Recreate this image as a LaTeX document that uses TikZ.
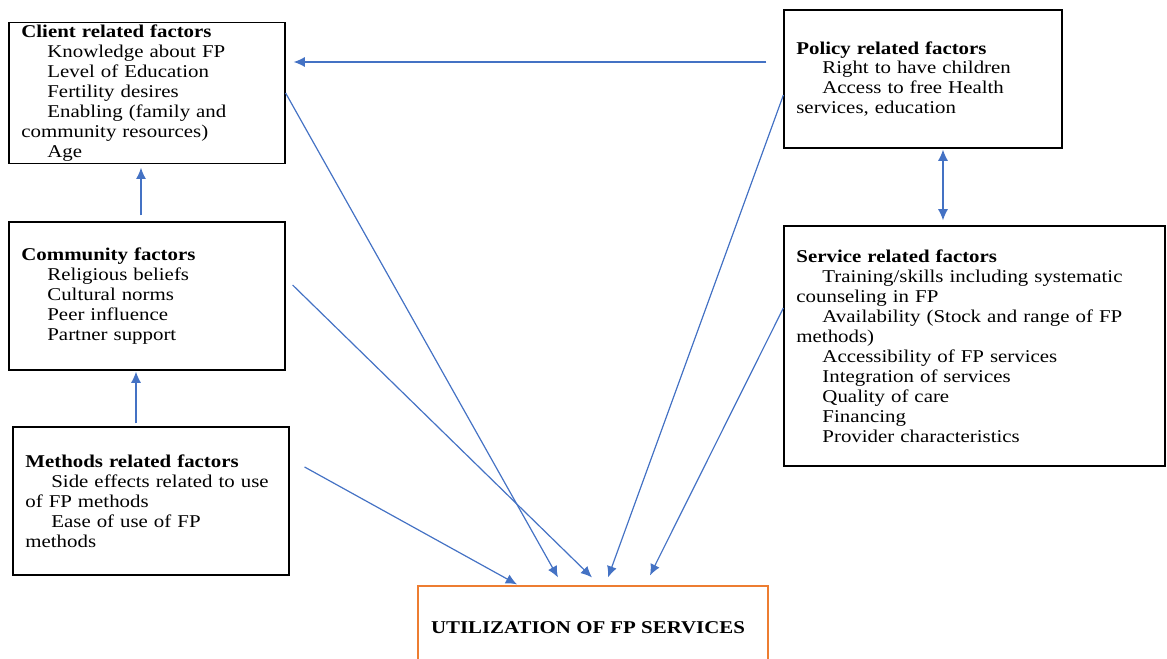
\documentclass[tikz,border=0pt]{standalone}
\usepackage{fontspec}
\setmainfont{Liberation Serif}[FakeStretch=1.16]
\usepackage{xcolor}
\usetikzlibrary{arrows.meta, calc, positioning}
\tikzset{> = { Latex[length = 2.8mm, width = 2.5mm] }}
\definecolor{flowblue}{HTML}{4472C4}
\definecolor{utilorange}{HTML}{ED7D31}
\newcommand{\itemgap}{\hspace*{0.65cm}}
\tikzset{
	factor/.style = {draw, line width = 0.8pt, align = left, inner xsep = 0.31cm, inner ysep = 0.05cm,
		font = \fontsize{12.8}{14.2}\selectfont},
	flow/.style = {draw = flowblue, line width = 0.85pt}
}

\begin{document}
\begin{tikzpicture}[x = 0.025cm, y = -0.025cm]
		\useasboundingbox (0, 0) rectangle (1167, 659);

		\node [factor, minimum width = 6.9cm, minimum height = 3.45cm, text width = 6.28cm] (client) at (147, 93)
			{\textbf{Client related factors}\\ \itemgap Knowledge about FP\\ \itemgap Level of Education\\
			 \itemgap Fertility desires\\ \itemgap Enabling (family and\\ community resources)\\ \itemgap Age};
		\node [factor, minimum width = 6.95cm, minimum height = 3.45cm, text width = 6.33cm] (policy) at (923, 79)
			{\textbf{Policy related factors}\\ \itemgap Right to have children\\ \itemgap Access to free Health\\
			 services, education};
		\node [factor, minimum width = 6.9cm, minimum height = 3.7cm, text width = 6.28cm] (community) at (147, 296)
			{\textbf{Community factors}\\ \itemgap Religious beliefs\\ \itemgap Cultural norms\\
			 \itemgap Peer influence\\ \itemgap Partner support};
		\node [factor, minimum width = 9.525cm, minimum height = 6cm, text width = 8.9cm] (service) at (974.5, 346)
			{\textbf{Service related factors}\\ \itemgap Training/skills including systematic\\ counseling in FP\\
			 \itemgap Availability (Stock and range of FP\\ methods)\\ \itemgap Accessibility of FP services\\
			 \itemgap Integration of services\\ \itemgap Quality of care\\ \itemgap Financing\\
			 \itemgap Provider characteristics};
		\node [factor, minimum width = 6.9cm, minimum height = 3.7cm, text width = 6.28cm] (methods) at (151, 501)
			{\textbf{Methods related factors}\\ \itemgap Side effects related to use\\ of FP methods\\
			 \itemgap Ease of use of FP\\ methods};
		\node [draw = utilorange, line width = 0.8pt, minimum width = 8.75cm, minimum height = 2.1cm,
			font = \fontsize{12.8}{14.2}\selectfont\bfseries] (util) at (593, 628) {UTILIZATION OF FP SERVICES\hspace*{0.25cm}};

		% arrows into the client box and up the left column
		\draw [flow, ->] ($(policy.west) + (-17, -17)$) -- ($(client.east) + (8, -31)$);
		\draw [flow, ->] ($(community.north) + (-6, -6)$) -- ($(client.south) + (-6, 4)$);
		\draw [flow, ->] ($(methods.north) + (-15, -3)$) -- ($(community.south) + (-11, 1)$);
		\draw [flow, <->] ($(policy.south) + (20, 1)$) -- ($(service.north) + (-31.5, -5)$);

		% arrows into utilization
		\draw [flow, ->] (client.east) -- ($(util.north) + (-35, -8)$);
		\draw [flow, ->] ($(community.east) + (7, -11)$) -- ($(util.north) + (-1, -8)$);
		\draw [flow, ->] ($(methods.east) + (15, -34)$) -- ($(util.north) + (-76, -1)$);
		\draw [flow, ->] ($(policy.west) + (0, 16)$) -- ($(util.north) + (15, -8)$);
		\draw [flow, ->] ($(service.west) + (0, -38)$) -- ($(util.north) + (57, -10)$);
	\end{tikzpicture}
\end{document}
